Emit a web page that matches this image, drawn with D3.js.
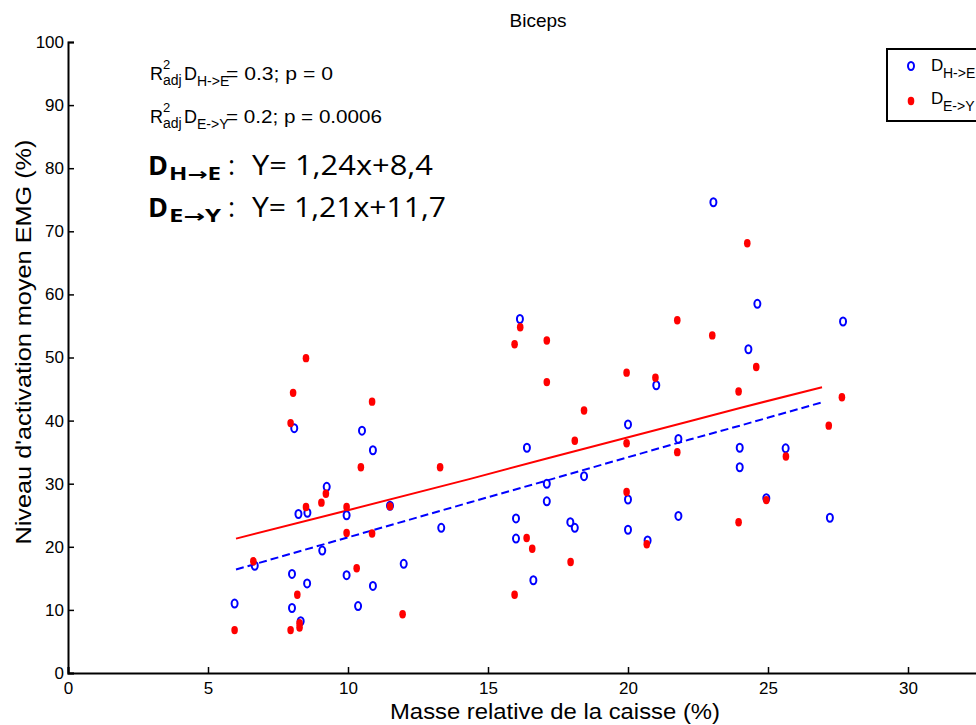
<!DOCTYPE html>
<html><head><meta charset="utf-8">
<script src="https://cdn.jsdelivr.net/npm/d3@7"></script>
<style>
html,body{margin:0;padding:0;background:#fff;overflow:hidden;}
svg{display:block;}
</style></head>
<body>
<script>
// ---- data ----
const xTicks = [0,5,10,15,20,25,30];
const yTicks = [0,10,20,30,40,50,60,70,80,90,100];

// D H->E (blue open circles)
const heX = [5.95,6.67,8.0,8.0,8.08,8.23,8.55,8.31,8.54,9.08,9.24,9.95,9.95,10.36,10.5,10.89,10.89,11.5,11.99,13.33,16.0,16.0,16.14,16.39,16.62,17.1,17.1,17.94,18.1,18.43,20.0,20.0,20.0,20.7,21.01,21.8,21.8,23.05,23.99,23.99,24.3,24.62,24.94,25.63,27.21,27.68];
const heY = [11.0,17.0,15.7,10.3,38.8,25.2,25.4,8.2,14.2,19.4,29.5,25.0,15.5,10.6,38.4,35.3,13.8,26.5,17.3,23.0,24.5,21.3,56.1,35.7,14.7,30.0,27.2,23.9,23.0,31.2,39.4,27.5,22.7,21.0,45.6,37.1,24.9,74.6,35.7,32.6,51.3,58.5,27.7,35.6,24.6,55.7];

// D E->Y (red filled dots)
const eyX = [5.95,6.62,7.95,8.27,8.27,8.19,8.04,7.95,8.5,8.5,9.05,9.21,9.95,9.95,10.31,10.46,10.86,10.86,11.5,11.95,13.29,15.95,15.95,16.15,16.38,16.58,17.1,17.1,17.95,18.1,18.43,19.95,19.95,19.95,20.67,20.98,21.76,21.76,23.01,23.95,23.95,24.26,24.58,24.94,25.64,27.17,27.64];
const eyY = [6.8,17.7,6.8,7.9,7.2,12.4,44.4,39.6,49.9,26.3,27.0,28.4,26.3,22.2,16.6,32.6,43.0,22.1,26.4,9.3,32.6,12.4,52.1,54.8,21.4,19.7,52.7,46.1,17.6,36.8,41.6,47.6,36.4,28.7,20.4,46.8,55.9,35.0,53.5,44.6,23.9,68.1,48.5,27.4,34.3,39.2,43.7];

// fitted lines
const fitX  = [6.0, 10.0, 14.4, 17.1, 22.2, 24.0, 26.93];
const fitHE = [16.4, 21.5, 27.1, 30.5, 37.0, 39.2, 42.9];
const fitEY = [21.3, 25.8, 30.8, 34.0, 39.9, 42.0, 45.3];

const titleText = "Biceps";
const xLabel = "Masse relative de la caisse (%)";
const yLabel = "Niveau d'activation moyen EMG (%)";

// ---- chart ----
const W = 976, H = 725;
const svg = d3.select("body").append("svg").attr("width", W).attr("height", H);

const x = d3.scaleLinear().domain([0,35]).range([68,1048]);
const y = d3.scaleLinear().domain([0,100]).range([673,42]);

const sans = "'Liberation Sans',Arial,sans-serif";

// axes
const xAxis = svg.append("g").attr("transform", `translate(0,${y(0)})`)
  .call(d3.axisBottom(x).tickValues(xTicks).tickSize(-6).tickPadding(9).tickFormat(d3.format("d")));
const yAxis = svg.append("g").attr("transform", `translate(${x(0)},0)`)
  .call(d3.axisLeft(y).tickValues(yTicks).tickSize(-6).tickPadding(4).tickFormat(d3.format("d")));
[xAxis, yAxis].forEach(g => {
  g.select(".domain").attr("stroke", "#000").attr("stroke-width", 2);
  g.selectAll(".tick line").attr("stroke", "#000").attr("stroke-width", 1.5);
});
xAxis.selectAll(".tick text").attr("font-family", sans).attr("font-size", 17).attr("fill", "#000");
yAxis.selectAll(".tick text").attr("font-family", sans).attr("font-size", 17).attr("fill", "#000");

// axis labels & title
svg.append("text").attr("x", 555).attr("y", 719).attr("text-anchor", "middle")
  .attr("font-family", sans).attr("font-size", 22)
  .attr("textLength", 330).attr("lengthAdjust", "spacingAndGlyphs").text(xLabel);
svg.append("text").attr("transform", "translate(31,342) rotate(-90)").attr("text-anchor", "middle")
  .attr("font-family", sans).attr("font-size", 22)
  .attr("textLength", 405).attr("lengthAdjust", "spacingAndGlyphs").text(yLabel);
svg.append("text").attr("x", 538).attr("y", 27).attr("text-anchor", "middle")
  .attr("font-family", sans).attr("font-size", 19).text(titleText);

// fitted lines
const line = d3.line().x((d,i) => x(fitX[i])).y(d => y(d));
svg.append("path").attr("d", line(fitEY)).attr("fill", "none").attr("stroke", "#ff0000").attr("stroke-width", 2);
svg.append("path").attr("d", line(fitHE)).attr("fill", "none").attr("stroke", "#0000ff").attr("stroke-width", 2)
  .attr("stroke-dasharray", "8,4");

// points
svg.append("g").selectAll("ellipse").data(heX).join("ellipse")
  .attr("cx", (d) => x(d)).attr("cy", (d,i) => y(heY[i]))
  .attr("rx", 3).attr("ry", 4).attr("fill", "none").attr("stroke", "#0000ff").attr("stroke-width", 2);
svg.append("g").selectAll("ellipse").data(eyX).join("ellipse")
  .attr("cx", (d) => x(d)).attr("cy", (d,i) => y(eyY[i]))
  .attr("rx", 3.3).attr("ry", 4.2).attr("fill", "#ff0000");

// annotations (R² lines)
function r2(baseY, sub, rest, restLen) {
  const g = svg.append("g").attr("font-family", sans).attr("fill", "#000");
  g.append("text").attr("x", 150).attr("y", baseY).attr("font-size", 18).text("R");
  g.append("text").attr("x", 163).attr("y", baseY - 11).attr("font-size", 13).text("2");
  g.append("text").attr("x", 163).attr("y", baseY + 5).attr("font-size", 14).text("adj");
  g.append("text").attr("x", 184).attr("y", baseY).attr("font-size", 18).text("D");
  g.append("text").attr("x", 197).attr("y", baseY + 6).attr("font-size", 14).text(sub);
  g.append("text").attr("x", 226).attr("y", baseY).attr("font-size", 18)
    .attr("textLength", restLen).attr("lengthAdjust", "spacingAndGlyphs").text(rest);
}
r2(80, "H->E", "= 0.3; p = 0", 107);
r2(123, "E->Y", "= 0.2; p = 0.0006", 156);

function eq(baseY, a, b, rest, restLen) {
  const g = svg.append("g").attr("fill", "#000");
  g.append("text").attr("x", 148).attr("y", baseY).attr("font-family", "'Open Sans',sans-serif")
    .attr("font-weight", "bold").attr("font-size", 27).text("D");
  const s = g.append("text").attr("x", 169).attr("y", baseY + 5).attr("font-family", "'Open Sans',sans-serif")
    .attr("font-weight", "bold").attr("font-size", 17).attr("textLength", 52).attr("lengthAdjust", "spacingAndGlyphs");
  s.append("tspan").text(a);
  s.append("tspan").attr("font-family", "'DejaVu Sans',sans-serif").text("→");
  s.append("tspan").text(b);
  g.append("text").attr("x", 228).attr("y", baseY).attr("font-family", "'Open Sans',sans-serif")
    .attr("font-size", 27).text(":");
  g.append("text").attr("x", 252).attr("y", baseY).attr("font-family", "'Open Sans',sans-serif")
    .attr("font-size", 27).attr("textLength", restLen).attr("lengthAdjust", "spacingAndGlyphs").text(rest);
}
eq(175, "H", "E", "Y= 1,24x+8,4", 181);
eq(217, "E", "Y", "Y= 1,21x+11,7", 194);

// legend
const lg = svg.append("g");
lg.append("rect").attr("x", 887).attr("y", 49).attr("width", 130).attr("height", 72)
  .attr("fill", "#fff").attr("stroke", "#000").attr("stroke-width", 2);
lg.append("ellipse").attr("cx", 911).attr("cy", 66).attr("rx", 3).attr("ry", 4)
  .attr("fill", "none").attr("stroke", "#0000ff").attr("stroke-width", 2);
lg.append("ellipse").attr("cx", 911).attr("cy", 101).attr("rx", 3.3).attr("ry", 4.2).attr("fill", "#ff0000");
function lgText(baseY, sub) {
  const t = lg.append("text").attr("font-family", sans).attr("font-size", 17).attr("fill", "#000");
  t.append("tspan").attr("x", 931).attr("y", baseY).text("D");
  t.append("tspan").attr("x", 943).attr("y", baseY + 7).attr("font-size", 14).text(sub);
}
lgText(71, "H->E");
lgText(104, "E->Y");
</script>
</body></html>
